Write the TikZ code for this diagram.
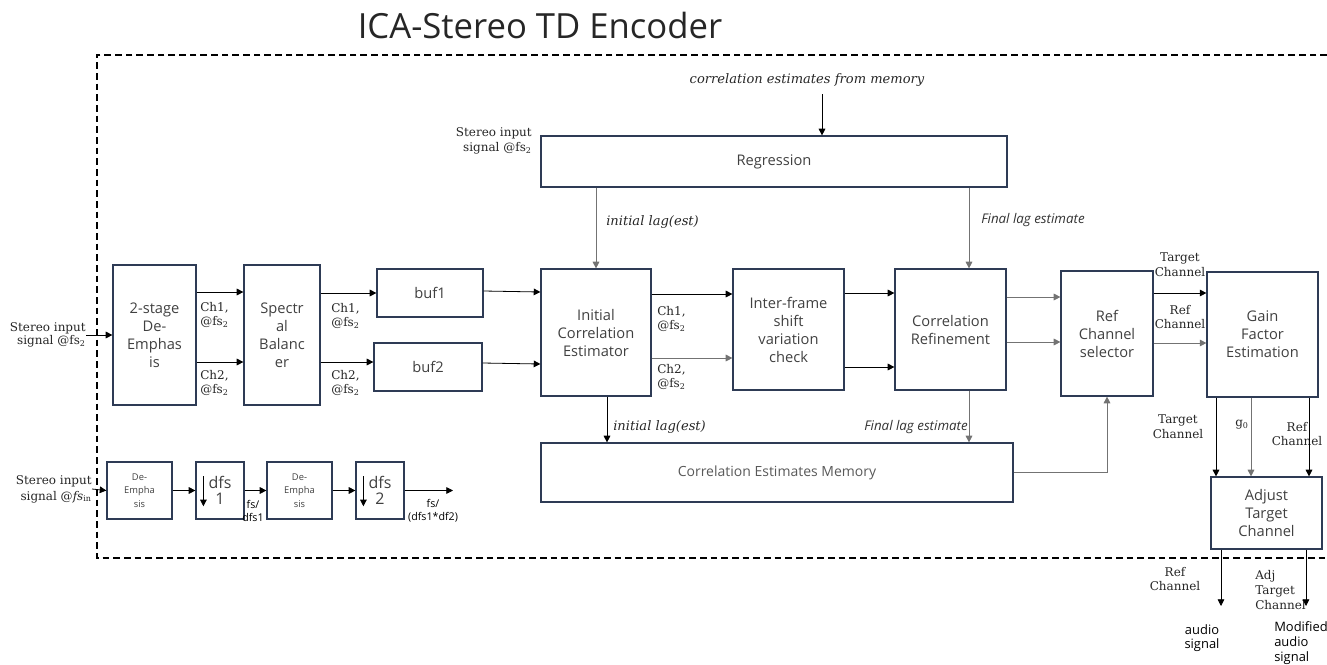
\documentclass[tikz,border=0pt]{standalone}
\usepackage{fontspec}
\setmainfont{Open Sans}
\newfontfamily\lblserif{DejaVu Serif}
\usetikzlibrary{arrows.meta}
\usetikzlibrary{positioning}
\definecolor{boxc}{HTML}{2E3B55}
\definecolor{txtc}{HTML}{404040}

\tikzset{
  blk/.style={draw=boxc, line width=0.9pt, align=center, text=txtc, inner sep=1pt,
    font=\fontsize{11}{13.5}\selectfont},
  lbl/.style={align=center, inner sep=0pt, text=black!85,
    font=\lblserif\fontsize{9}{11}\selectfont},
  ilbl/.style={inner sep=0pt, text=black!85, font=\lblserif\itshape\fontsize{9.8}{11}\selectfont},
  slbl/.style={inner sep=0pt, text=black!80, font=\itshape\fontsize{10}{11}\selectfont},
  arr/.style={-{Triangle[length=5pt,width=5pt]}, line width=0.6pt},
  garr/.style={arr, draw=black!55},
}

\begin{document}
\begin{tikzpicture}[x=0.75pt,y=-0.75pt]
  \useasboundingbox (0,0) rectangle (1327,664);

  \node[font=\fontsize{26}{30}\selectfont, text=black!85] (title) at (540,25) {ICA-Stereo TD Encoder};
  \draw[dashed, dash pattern=on 5pt off 3pt, line width=1.1pt] (1327,55) -- (97,55) -- (97,558) -- (1327,558);

  % main chain
  \node[blk, minimum width=62.25pt, minimum height=105pt] (demph) at (154.5,335) {2-stage\\De-\\Emphas\\is};
  \node[blk, minimum width=57pt, minimum height=105pt] (specbal) at (282,335) {Spectr\\al\\Balanc\\er};
  \node[blk, minimum width=79.5pt, minimum height=36pt] (buf1) at (430,293) {buf1};
  \node[blk, minimum width=81pt, minimum height=36pt] (buf2) at (428,367) {buf2};
  \node[blk, minimum width=82.5pt, minimum height=95.25pt] (ice) at (596,332.5) {Initial\\Correlation\\Estimator};
  \node[blk, minimum width=83.25pt, minimum height=90.75pt] (ifs) at (788.5,329.5) {Inter-frame\\shift\\variation\\check};
  \node[blk, minimum width=83.25pt, minimum height=90.75pt] (cref) at (950.5,329.5) {Correlation\\Refinement};
  \node[blk, minimum width=69pt, minimum height=93.75pt] (refsel) at (1107,333.5) {Ref\\Channel\\selector};
  \node[blk, minimum width=83.25pt, minimum height=93.75pt] (gain) at (1262.5,334.5) {Gain\\Factor\\Estimation};
  \node[blk, minimum width=83.25pt, minimum height=54pt] (adjust) at (1266.5,513) {Adjust\\Target\\Channel};
  \node[blk, minimum width=349.5pt, minimum height=38.25pt] (regr) at (774,161.5) {Regression};
  \node[blk, minimum width=354pt, minimum height=44.25pt, text=black!65,
    font=\fontsize{10.5}{13}\selectfont] (mem) at (777,472.5) {Correlation Estimates Memory};

  % downsampling chain
  \node[blk, minimum width=48.75pt, minimum height=42.75pt, font=\fontsize{7}{10}\selectfont] (deA) at (139.5,490.5) {De-\\Empha\\sis};
  \node[blk, minimum width=36pt, minimum height=42.75pt, font=\fontsize{12}{12.5}\selectfont] (dfsA) at (220,490.5) {dfs\\1};
  \node[blk, minimum width=48.75pt, minimum height=42.75pt, font=\fontsize{7}{10}\selectfont] (deB) at (299.5,490.5) {De-\\Empha\\sis};
  \node[blk, minimum width=36pt, minimum height=42.75pt, font=\fontsize{12}{12.5}\selectfont] (dfsB) at (380,490.5) {dfs\\2};
  \coordinate (fsout) at (453,490.5);

  % labels
  \node[lbl, anchor=east, align=right, font=\lblserif\fontsize{9}{9.5}\selectfont] (inA) at (86,335) {Stereo input\\signal @fs\textsubscript{2}};
  \node[lbl, anchor=east, align=right, font=\lblserif\fontsize{9}{12}\selectfont] (inB) at (92,489) {Stereo input\\signal @\textit{fs}\textsubscript{in}};
  \node[lbl, anchor=east, align=right] (inR) at (532,141) {Stereo input\\signal @fs\textsubscript{2}};
  \node[lbl, anchor=west, align=left] (chA1) at (200,315) {Ch1,\\@fs\textsubscript{2}};
  \node[lbl, anchor=west, align=left] (chA2) at (200,383) {Ch2,\\@fs\textsubscript{2}};
  \node[lbl, anchor=west, align=left] (chB1) at (331,316) {Ch1,\\@fs\textsubscript{2}};
  \node[lbl, anchor=west, align=left] (chB2) at (331,383) {Ch2,\\@fs\textsubscript{2}};
  \node[lbl, anchor=west, align=left] (chC1) at (657,319) {Ch1,\\@fs\textsubscript{2}};
  \node[lbl, anchor=west, align=left] (chC2) at (657,377) {Ch2,\\@fs\textsubscript{2}};
  \node[ilbl, outer ysep=6pt] (memnote) at (807,80) {correlation estimates from memory};
  \node[ilbl, anchor=west] (lagA) at (606,222) {initial lag(est)};
  \node[slbl, anchor=west] (finA) at (981,220) {Final lag estimate};
  \node[ilbl, anchor=west] (lagB) at (613,427) {initial lag(est)};
  \node[slbl, anchor=east] (finB) at (968,427) {Final lag estimate};
  \node[lbl] (tgtA) at (1180,265) {Target\\Channel};
  \node[lbl] (refA) at (1180,317) {Ref\\Channel};
  \node[lbl] (tgtB) at (1178,427) {Target\\Channel};
  \node[lbl] (gzero) at (1242,425) {g\textsubscript{0}};
  \node[lbl] (refB) at (1297,434) {Ref\\Channel};
  \node[lbl] (refC) at (1175,579) {Ref\\Channel};
  \node[lbl, anchor=west, align=left] (adjC) at (1255,590) {Adj\\Target\\Channel};
  \node[inner sep=0pt, font=\fontsize{9.7}{11}\selectfont, align=center] (audio) at (1202,638) {audio\\signal};
  \node[inner sep=0pt, font=\fontsize{9.7}{11}\selectfont, align=left, anchor=west] (modaudio) at (1274,643) {Modified\\audio\\signal};
  \node[inner sep=0pt, font=\fontsize{8}{10}\selectfont, align=center] (fsA) at (253,511) {fs/\\dfs1};
  \node[inner sep=0pt, font=\fontsize{8}{10}\selectfont, align=center] (fsB) at (433,511) {fs/\\(dfs1*df2)};
  \coordinate (refout) at (1221,606);
  \coordinate (adjout) at (1306,606);

  % connectors
  \draw[arr] (inA.east) -- (demph.west);
  \draw[arr] (demph.east |- 0,292) -- (specbal.west |- 0,292);
  \draw[arr] (demph.east |- 0,362) -- (specbal.west |- 0,362);
  \draw[arr] (specbal.east |- 0,293) -- (buf1.west |- 0,293);
  \draw[arr] (specbal.east |- 0,362) -- (buf2.west |- 0,362);
  \draw[arr] (buf1.east |- 0,291) -- (ice.west |- 0,292);
  \draw[arr] (buf2.east |- 0,363) -- (ice.west |- 0,364);
  \draw[arr] (ice.east |- 0,294) -- (ifs.west |- 0,294);
  \draw[garr] (ice.east |- 0,358) -- (ifs.west |- 0,358);
  \draw[arr] (ifs.east |- 0,293) -- (cref.west |- 0,293);
  \draw[arr] (ifs.east |- 0,367) -- (cref.west |- 0,367);
  \draw[garr] (cref.east |- 0,297) -- (refsel.west |- 0,297);
  \draw[garr] (cref.east |- 0,342) -- (refsel.west |- 0,342);
  \draw[arr] (refsel.east |- 0,293) -- (gain.west |- 0,293);
  \draw[garr] (refsel.east |- 0,343) -- (gain.west |- 0,343);
  \draw[arr] (memnote.south -| 822,0) -- (regr.north -| 822,0);
  \draw[garr] (regr.south -| ice.north) -- (ice.north);
  \draw[garr] (regr.south -| 969,0) -- (cref.north -| 969,0);
  \draw[arr] (ice.south -| 607,0) -- (mem.north -| 607,0);
  \draw[garr] (cref.south -| 969,0) -- (mem.north -| 969,0);
  \draw[garr] (mem.east) -| (refsel.south);
  \draw[arr] (gain.south -| 1216,0) -- (adjust.north -| 1216,0);
  \draw[garr] (gain.south -| 1251,0) -- (adjust.north -| 1251,0);
  \draw[arr] (gain.south -| 1309,0) -- (adjust.north -| 1309,0);
  \draw[arr] (adjust.south -| refout) -- (refout);
  \draw[arr] (adjust.south -| adjout) -- (adjout);

  \draw[arr] (inB.east) -- (deA.west);
  \draw[arr] (deA) -- (dfsA);
  \draw[arr] (dfsA) -- (deB);
  \draw[arr] (deB) -- (dfsB);
  \draw[arr] (dfsB.east) -- (fsout);
  \draw[arr] ([xshift=6pt,yshift=-11pt]dfsA.north west) -- ([xshift=6pt,yshift=10pt]dfsA.south west);
  \draw[arr] ([xshift=6pt,yshift=-11pt]dfsB.north west) -- ([xshift=6pt,yshift=10pt]dfsB.south west);
\end{tikzpicture}
\end{document}
